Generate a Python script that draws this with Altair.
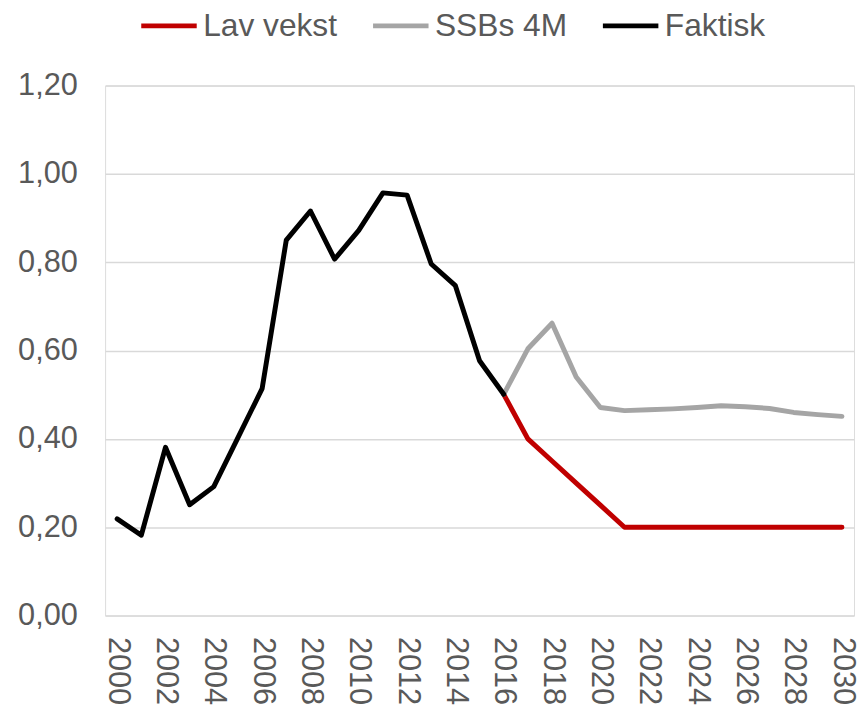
import altair as alt
import pandas as pd

series_order = ["Lav vekst", "SSBs 4M", "Faktisk"]
series_colors = ["#C00000", "#A5A5A5", "#000000"]

years_faktisk = list(range(2000, 2017))
faktisk = [0.219, 0.182, 0.381, 0.251, 0.292, 0.403, 0.514, 0.850, 0.916,
           0.807, 0.872, 0.957, 0.952, 0.796, 0.747, 0.577, 0.501]

years_proj = list(range(2016, 2031))
ssb_4m = [0.501, 0.604, 0.662, 0.540, 0.471, 0.464, 0.466, 0.468, 0.471,
          0.475, 0.473, 0.469, 0.460, 0.455, 0.451]
lav_vekst = [0.501, 0.400, 0.350, 0.300, 0.250, 0.200, 0.200, 0.200, 0.200,
             0.200, 0.200, 0.200, 0.200, 0.200, 0.200]

x_ticks = list(range(2000, 2031, 2))
y_ticks = [0.0, 0.2, 0.4, 0.6, 0.8, 1.0, 1.2]

rows = []
for y, v in zip(years_proj, lav_vekst):
    rows.append({"serie": "Lav vekst", "år": y, "verdi": v})
for y, v in zip(years_proj, ssb_4m):
    rows.append({"serie": "SSBs 4M", "år": y, "verdi": v})
for y, v in zip(years_faktisk, faktisk):
    rows.append({"serie": "Faktisk", "år": y, "verdi": v})
df = pd.DataFrame(rows)

chart = alt.Chart(df).mark_line(
    strokeWidth=5, strokeCap="round", strokeJoin="round"
).encode(
    x=alt.X("år:Q",
            scale=alt.Scale(domain=[1999.5, 2030.5], nice=False, zero=False),
            axis=alt.Axis(values=x_ticks, format="d", labelAngle=90,
                          labelAlign="left", labelBaseline="middle",
                          labelPadding=21, ticks=False, tickSize=0,
                          domain=False, grid=False, title=None,
                          labelFontSize=31, labelColor="#595959",
                          labelFont="Liberation Sans", labelOverlap=False,
                          labelFlush=False)),
    y=alt.Y("verdi:Q",
            scale=alt.Scale(domain=[0, 1.2], nice=False),
            axis=alt.Axis(values=y_ticks,
                          labelExpr="replace(format(datum.value, '.2f'), '.', ',')",
                          ticks=False, tickSize=0, domain=False, grid=True,
                          gridColor="#D9D9D9", gridWidth=1.5,
                          labelPadding=28, title=None,
                          labelFontSize=31, labelColor="#595959",
                          labelFont="Liberation Sans")),
    color=alt.Color("serie:N",
                    scale=alt.Scale(domain=series_order, range=series_colors),
                    sort=series_order,
                    legend=alt.Legend(title=None, orient="none",
                                      direction="horizontal",
                                      legendX=34, legendY=-91,
                                      symbolType="stroke", symbolSize=3136,
                                      symbolStrokeWidth=5,
                                      labelFontSize=32, labelColor="#595959",
                                      labelFont="Liberation Sans",
                                      labelOffset=4, columnPadding=25,
                                      padding=0)),
    order=alt.Order("serie:N", sort="descending"),
).properties(
    width=756,
    height=535,
    autosize=alt.AutoSizeParams(type="none"),
    padding={"left": 98, "top": 75, "right": 3, "bottom": 92},
).configure_view(stroke=None).configure(font="Liberation Sans")

chart.save("out.html", embed_options={"renderer": "svg", "actions": False})
